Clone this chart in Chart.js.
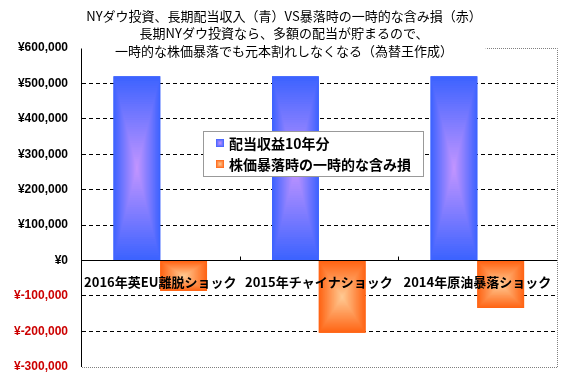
<!DOCTYPE html>
<html>
<head>
<meta charset="utf-8">
<script src="https://cdn.jsdelivr.net/npm/chart.js@4/dist/chart.umd.min.js"></script>
<style>
  html, body { margin: 0; padding: 0; background: #fff; }
  #wrap { width: 566px; height: 387px; }
</style>
</head>
<body>
<div id="wrap"><canvas id="chart" width="566" height="387"></canvas></div>
<script>
// data
const categories = ["2016年英EU離脱ショック", "2015年チャイナショック", "2014年原油暴落ショック"];
const seriesNames = ["配当収益10年分", "株価暴落時の一時的な含み損"];
const dividendIncome = [520000, 520000, 520000];
const temporaryLoss = [-86000, -204000, -134000];
const titleLines = [
  "NYダウ投資、長期配当収入（青）VS暴落時の一時的な含み損（赤）",
  "長期NYダウ投資なら、多額の配当が貯まるので、",
  "一時的な株価暴落でも元本割れしなくなる（為替王作成）"
];

// edge colour / centre colour of each series (rectangular gradient like Excel)
const edgeColors = ["#3d63ff", "#ff6414"];
const centerColors = ["#c496ff", "#ffcc96"];

const JP = '"Noto Sans CJK JP", "Noto Sans", sans-serif';

function hexToRgb(h) {
  const n = parseInt(h.slice(1), 16);
  return [(n >> 16) & 255, (n >> 8) & 255, n & 255];
}
function mix(a, b, t) {
  const c1 = hexToRgb(a), c2 = hexToRgb(b);
  const r = c1.map((v, i) => Math.round(v + (c2[i] - v) * t));
  return "rgb(" + r.join(",") + ")";
}

// paint a box-shaped gradient from edge to centre
function rectGradient(ctx, left, top, w, h, edge, center) {
  const steps = 40;
  for (let k = 0; k < steps; k++) {
    const t = k / steps;
    const ix = (w / 2) * t, iy = (h / 2) * t;
    ctx.fillStyle = mix(edge, center, t);
    ctx.fillRect(left + ix, top + iy, w - 2 * ix, h - 2 * iy);
  }
}

const barLook = {
  id: "barLook",
  afterDatasetsDraw(chart) {
    const ctx = chart.ctx;
    chart.data.datasets.forEach((ds, di) => {
      const meta = chart.getDatasetMeta(di);
      meta.data.forEach((bar) => {
        const p = bar.getProps(["x", "y", "base", "width"], true);
        const top = Math.min(p.y, p.base);
        const h = Math.abs(p.base - p.y);
        rectGradient(ctx, p.x - p.width / 2, top, p.width, h, edgeColors[di], centerColors[di]);
      });
    });
    // small upward ticks on the zero line between categories
    const xs = chart.scales.x, ys = chart.scales.y;
    const y0 = ys.getPixelForValue(0);
    ctx.save();
    ctx.strokeStyle = "#000";
    ctx.lineWidth = 1;
    for (let i = 1; i < categories.length; i++) {
      const x = Math.round((xs.getPixelForTick(i - 1) + xs.getPixelForTick(i)) / 2) + 0.5;
      ctx.beginPath();
      ctx.moveTo(x, y0);
      ctx.lineTo(x, y0 - 4);
      ctx.stroke();
    }
    ctx.restore();
  },
  afterDraw(chart) {
    const ctx = chart.ctx;
    const a = chart.chartArea;
    ctx.save();
    // dotted grey frame on top, right and bottom
    ctx.strokeStyle = "#808080";
    ctx.lineWidth = 1;
    ctx.setLineDash([1, 1]);
    ctx.beginPath();
    ctx.moveTo(a.left, Math.round(a.top) + 0.5);
    ctx.lineTo(Math.round(a.right) + 0.5, Math.round(a.top) + 0.5);
    ctx.lineTo(Math.round(a.right) + 0.5, Math.round(a.bottom) + 0.5);
    ctx.lineTo(a.left, Math.round(a.bottom) + 0.5);
    ctx.stroke();
    ctx.setLineDash([]);

    // title block (sits over the top of the plot)
    ctx.font = "13px " + JP;
    const cx = 284;
    let maxW = 0;
    titleLines.forEach((t) => { maxW = Math.max(maxW, ctx.measureText(t).width); });
    ctx.fillStyle = "#fff";
    ctx.fillRect(cx - maxW / 2 - 4, 0, maxW + 8, 60);
    ctx.fillStyle = "#000";
    ctx.textAlign = "center";
    ctx.textBaseline = "middle";
    titleLines.forEach((t, i) => ctx.fillText(t, cx, 16 + i * 17.5));

    // legend box inside the plot
    const lx = a.left + 122, ly = a.top + 83, lw = 220, lh = 45;
    ctx.fillStyle = "#fff";
    ctx.fillRect(lx, ly, lw, lh);
    ctx.strokeStyle = "#999";
    ctx.strokeRect(lx + 0.5, ly + 0.5, lw, lh);
    ctx.font = "bold 14px " + JP;
    ctx.textAlign = "left";
    chart.data.datasets.forEach((ds, di) => {
      const rowY = ly + 12 + di * 21;
      rectGradient(ctx, lx + 13, rowY - 4, 8, 8, edgeColors[di], centerColors[di]);
      ctx.fillStyle = "#000";
      ctx.fillText(ds.label, lx + 26, rowY + 1);
    });
    ctx.restore();
  }
};

new Chart(document.getElementById("chart"), {
  type: "bar",
  data: {
    labels: categories,
    datasets: [
      { label: seriesNames[0], data: dividendIncome, backgroundColor: edgeColors[0], borderWidth: 0 },
      { label: seriesNames[1], data: temporaryLoss, backgroundColor: edgeColors[1], borderWidth: 0 }
    ]
  },
  options: {
    responsive: false,
    animation: false,
    devicePixelRatio: 1,
    categoryPercentage: 0.59,
    barPercentage: 1.0,
    layout: { padding: { top: 48, right: 5, bottom: 15, left: 0 } },
    plugins: {
      legend: { display: false },
      title: { display: false },
      tooltip: { enabled: false }
    },
    scales: {
      x: {
        position: { y: 0 },
        grid: { display: false, drawTicks: false },
        border: { display: true, color: "#000", width: 1, z: 1 },
        ticks: {
          z: 1,
          color: "#000",
          padding: 14,
          maxRotation: 0,
          autoSkip: false,
          font: { family: JP, size: 13, weight: "bold" }
        }
      },
      y: {
        min: -300000,
        max: 600000,
        afterFit(scale) { scale.width = 81; },
        grid: {
          drawTicks: false,
          color: (c) => (c.tick && (c.tick.value === 600000 || c.tick.value === -300000)) ? "rgba(0,0,0,0)" : "#000",
          lineWidth: 1
        },
        border: { display: true, color: "#000", width: 1, dash: [4, 3] },
        ticks: {
          stepSize: 100000,
          padding: 13,
          color: (c) => c.tick && c.tick.value < 0 ? "#cc0000" : "#000",
          font: { family: '"Liberation Sans", Arial, sans-serif', size: 12, weight: "bold" },
          callback: (v) => "¥" + Number(v).toLocaleString("en-US")
        }
      }
    }
  },
  plugins: [barLook]
});
</script>
</body>
</html>
